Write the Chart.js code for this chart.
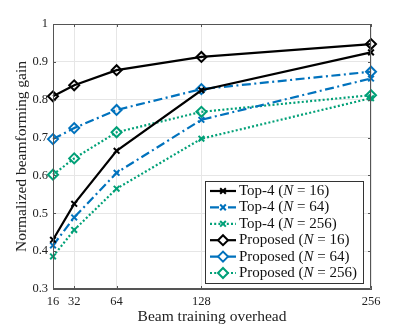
<!DOCTYPE html>
<html>
<head>
<meta charset="utf-8">
<script src="https://cdn.jsdelivr.net/npm/chart.js@4/dist/chart.umd.min.js"></script>
<style>
    html, body { margin: 0; padding: 0; background: #fff; }
</style>
</head>
<body>
<canvas id="gainChart" width="409" height="327"></canvas>
<script>
const overheadTicks = [16, 32, 64, 128, 256];
const gainTicks = [0.3, 0.4, 0.5, 0.6, 0.7, 0.8, 0.9, 1];

const top4N16 = [0.430, 0.525, 0.665, 0.825, 0.925];
const top4N64 = [0.415, 0.489, 0.607, 0.747, 0.856];
const top4N256 = [0.386, 0.456, 0.565, 0.697, 0.804];
const proposedN16 = [0.809, 0.838, 0.878, 0.913, 0.947];
const proposedN64 = [0.696, 0.725, 0.773, 0.828, 0.874];
const proposedN256 = [0.602, 0.645, 0.714, 0.768, 0.812];

const seriesNames = [
    ["Top-4 (", "16)"], ["Top-4 (", "64)"], ["Top-4 (", "256)"],
    ["Proposed (", "16)"], ["Proposed (", "64)"], ["Proposed (", "256)"],
];

const SERIF = "'Liberation Serif', 'DejaVu Serif', serif";
const BLACK = "#000000";
const BLUE = "#0072BD";
const GREEN = "#00A077";
const DASHDOT = [9, 3.5, 2, 3.5];
const DOTTED = [2, 2.2];

function series(values, color, dash, marker) {
    return {
        data: values.map((v, i) => ({x: overheadTicks[i], y: v})),
        borderColor: color,
        borderWidth: 2.2,
        borderDash: dash,
        pointStyle: marker,
        pointRadius: marker === "rectRot" ? 5 : 4,
        pointBorderWidth: 2,
        pointBorderColor: color,
        pointBackgroundColor: "rgba(0,0,0,0)",
        fill: false,
        tension: 0,
        clip: false,
    };
}

const boxPlugin = {
    id: "boxAndLegend",
    afterDraw(chart) {
        const ctx = chart.ctx;
        const a = chart.chartArea;
        const xs = chart.scales.x;
        const ys = chart.scales.y;
        ctx.save();
        ctx.strokeStyle = "#555";
        ctx.lineWidth = 1;
        ctx.beginPath();
        ctx.rect(a.left + 0.5, a.top + 0.5, a.right - a.left - 1, a.bottom - a.top - 1);
        ctx.stroke();
        // inward ticks
        ctx.beginPath();
        overheadTicks.forEach(t => {
            const px = Math.round(xs.getPixelForValue(t)) + 0.5;
            ctx.moveTo(px, a.bottom); ctx.lineTo(px, a.bottom - 3);
            ctx.moveTo(px, a.top); ctx.lineTo(px, a.top + 3);
        });
        gainTicks.forEach(t => {
            const py = Math.round(ys.getPixelForValue(t)) + 0.5;
            ctx.moveTo(a.left, py); ctx.lineTo(a.left + 3, py);
            ctx.moveTo(a.right, py); ctx.lineTo(a.right - 3, py);
        });
        ctx.stroke();

        // legend box
        const w = 158, h = 102;
        const lx = a.right - 8 - w;
        const ly = a.bottom - 6 - h;
        ctx.fillStyle = "#fff";
        ctx.fillRect(lx, ly, w, h);
        ctx.strokeStyle = "#333";
        ctx.strokeRect(lx + 0.5, ly + 0.5, w, h);

        chart.data.datasets.forEach((ds, i) => {
            const ry = ly + 10 + i * 16.4;
            ctx.save();
            ctx.strokeStyle = ds.borderColor;
            ctx.lineWidth = ds.borderWidth;
            ctx.setLineDash(ds.borderDash || []);
            ctx.beginPath();
            ctx.moveTo(lx + 5, ry);
            ctx.lineTo(lx + 31, ry);
            ctx.stroke();
            ctx.setLineDash([]);
            ctx.lineWidth = ds.pointBorderWidth;
            ctx.fillStyle = "#fff";
            Chart.helpers.drawPoint(ctx, {
                pointStyle: ds.pointStyle,
                radius: ds.pointRadius,
                borderWidth: ds.pointBorderWidth,
                rotation: 0,
            }, lx + 18, ry);
            ctx.restore();

            const [head, tail] = seriesNames[i];
            ctx.fillStyle = "#111";
            ctx.textBaseline = "middle";
            let tx = lx + 34;
            ctx.font = "15px " + SERIF;
            ctx.fillText(head, tx, ry);
            tx += ctx.measureText(head).width;
            ctx.font = "italic 15px " + SERIF;
            ctx.fillText("N", tx, ry);
            tx += ctx.measureText("N").width;
            ctx.font = "15px " + SERIF;
            ctx.fillText(" = " + tail, tx, ry);
        });
        ctx.restore();
    },
};

new Chart(document.getElementById("gainChart").getContext("2d"), {
    type: "line",
    data: {
        datasets: [
            series(top4N16, BLACK, [], "crossRot"),
            series(top4N64, BLUE, DASHDOT, "crossRot"),
            series(top4N256, GREEN, DOTTED, "crossRot"),
            series(proposedN16, BLACK, [], "rectRot"),
            series(proposedN64, BLUE, DASHDOT, "rectRot"),
            series(proposedN256, GREEN, DOTTED, "rectRot"),
        ],
    },
    options: {
        responsive: false,
        animation: false,
        layout: {padding: {top: 24, right: 38, left: 0, bottom: 0}},
        plugins: {
            legend: {display: false},
            tooltip: {enabled: false},
        },
        scales: {
            x: {
                type: "linear",
                min: 16,
                max: 256,
                afterBuildTicks: s => { s.ticks = overheadTicks.map(v => ({value: v})); },
                afterFit: s => { s.height = 38; },
                grid: {color: "#e6e6e6", drawTicks: false},
                border: {color: "#555"},
                ticks: {
                    autoSkip: false,
                    maxRotation: 0,
                    padding: 5,
                    color: "#222",
                    font: {family: SERIF, size: 12.5},
                    callback: v => String(v),
                },
                title: {
                    display: true,
                    text: "Beam training overhead",
                    color: "#222",
                    font: {family: SERIF, size: 15.5},
                    padding: {top: 0, bottom: 1},
                },
            },
            y: {
                min: 0.3,
                max: 1,
                afterBuildTicks: s => { s.ticks = gainTicks.map(v => ({value: v})); },
                afterFit: s => { s.width = 53; },
                grid: {color: "#e6e6e6", drawTicks: false},
                border: {color: "#555"},
                ticks: {
                    padding: 5,
                    color: "#222",
                    font: {family: SERIF, size: 12.5},
                    callback: v => (v === 1 ? "1" : v.toFixed(1)),
                },
                title: {
                    display: true,
                    text: "Normalized beamforming gain",
                    color: "#222",
                    font: {family: SERIF, size: 15.5},
                    padding: {top: 13, bottom: 0},
                },
            },
        },
    },
    plugins: [boxPlugin],
});
</script>
</body>
</html>
